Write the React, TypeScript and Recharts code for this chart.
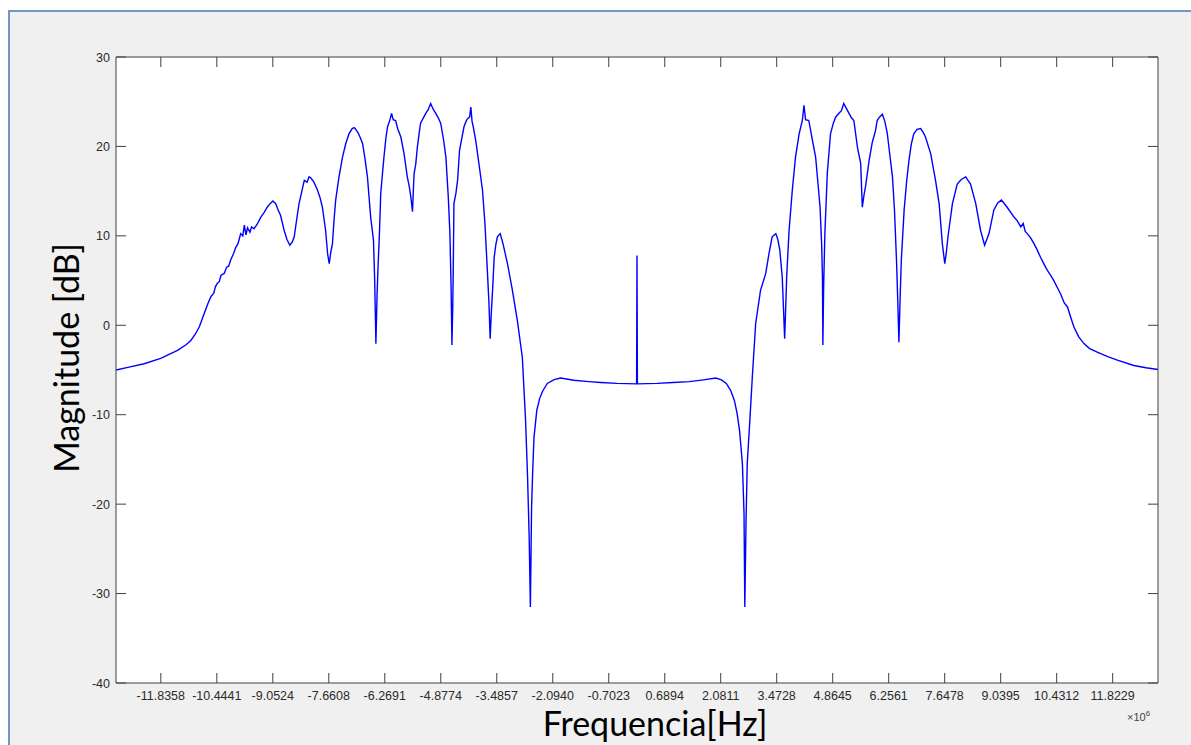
import { CartesianGrid, Line, LineChart, XAxis, YAxis } from 'recharts'

// frequency in MHz (axis shows x10^6 Hz), magnitude in dB
const lowerSideband: Array<[number, number]> = [
  [-12.95, -5.0], [-12.6, -4.65], [-12.25, -4.3], [-11.84, -3.7], [-11.42, -2.8], [-11.2, -2.15],
  [-11.09, -1.7], [-10.98, -1.0], [-10.88, -0.2], [-10.76, 1.3], [-10.66, 2.5], [-10.59, 3.2],
  [-10.52, 3.6], [-10.48, 4.3], [-10.43, 4.7], [-10.38, 4.9], [-10.34, 5.6], [-10.26, 5.8],
  [-10.2, 6.5], [-10.15, 6.6], [-10.1, 7.3], [-10.03, 8.0], [-9.97, 8.75], [-9.92, 9.1],
  [-9.85, 10.25], [-9.8, 10.0], [-9.76, 11.2], [-9.72, 10.1], [-9.68, 10.9], [-9.62, 10.4],
  [-9.58, 11.0], [-9.52, 10.8], [-9.44, 11.3], [-9.35, 12.1], [-9.27, 12.6], [-9.19, 13.2],
  [-9.12, 13.6], [-9.05, 13.9], [-8.98, 13.6], [-8.92, 12.9], [-8.86, 12.3], [-8.77, 10.6],
  [-8.7, 9.6], [-8.63, 8.95], [-8.57, 9.3], [-8.52, 9.9], [-8.46, 11.8], [-8.4, 13.6],
  [-8.33, 15.0], [-8.27, 16.2], [-8.2, 16.0], [-8.15, 16.6], [-8.11, 16.5], [-8.03, 16.0],
  [-7.94, 15.1], [-7.88, 14.3], [-7.82, 13.2], [-7.74, 10.6], [-7.69, 8.0], [-7.65, 6.9],
  [-7.61, 8.2], [-7.57, 9.1], [-7.53, 11.8], [-7.49, 14.0], [-7.41, 16.5], [-7.32, 18.8],
  [-7.24, 20.3], [-7.16, 21.4], [-7.08, 22.0], [-7.03, 22.1], [-6.99, 21.9], [-6.93, 21.5],
  [-6.88, 21.0], [-6.82, 20.3], [-6.76, 18.6], [-6.7, 16.6], [-6.62, 12.1], [-6.55, 9.5],
  [-6.52, 5.0], [-6.49, -2.05], [-6.46, 3.5], [-6.44, 6.15], [-6.4, 10.5], [-6.37, 14.7],
  [-6.33, 16.8], [-6.29, 18.8], [-6.24, 21.0], [-6.2, 22.2], [-6.14, 23.0], [-6.1, 23.7],
  [-6.06, 23.0], [-6.0, 22.9], [-5.95, 22.0], [-5.87, 21.05], [-5.79, 19.2], [-5.71, 16.6],
  [-5.66, 15.5], [-5.62, 14.3], [-5.58, 12.7], [-5.56, 15.0], [-5.54, 17.0], [-5.5, 18.0],
  [-5.46, 19.9], [-5.42, 21.3], [-5.38, 22.6], [-5.31, 23.2], [-5.25, 23.7], [-5.19, 24.1],
  [-5.13, 24.8], [-5.06, 24.1], [-5.0, 23.7], [-4.94, 23.2], [-4.88, 22.6], [-4.81, 20.8],
  [-4.75, 18.8], [-4.69, 14.3], [-4.65, 10.25], [-4.62, 4.0], [-4.6, -2.2], [-4.58, 2.0],
  [-4.57, 5.4], [-4.55, 13.6], [-4.5, 14.8], [-4.46, 16.2], [-4.41, 19.6], [-4.35, 21.0],
  [-4.3, 22.2], [-4.25, 22.8], [-4.21, 23.1], [-4.16, 23.3], [-4.13, 24.4], [-4.1, 22.8],
  [-4.07, 22.2], [-4.01, 20.7], [-3.93, 18.1], [-3.84, 15.1], [-3.78, 11.4], [-3.72, 6.15],
  [-3.68, 2.5], [-3.65, -1.5], [-3.62, 1.5], [-3.59, 3.9], [-3.55, 7.6], [-3.51, 9.0],
  [-3.47, 9.9], [-3.4, 10.25], [-3.33, 9.1], [-3.22, 6.9], [-3.1, 4.0], [-2.97, 0.4],
  [-2.85, -3.6], [-2.77, -10.6], [-2.72, -17.0], [-2.68, -23.7], [-2.65, -31.5], [-2.62, -20.3],
  [-2.59, -16.0], [-2.56, -12.5], [-2.49, -9.5], [-2.42, -8.2], [-2.35, -7.4], [-2.23, -6.5],
  [-2.06, -6.07], [-1.9, -5.9], [-1.57, -6.15], [-1.2, -6.3], [-0.9, -6.4], [-0.5, -6.5],
]

const carrier: Array<[number, number]> = [
  [-0.01, -6.55], [0, 7.8], [0.01, -6.55],
]

const upperSideband: Array<[number, number]> = [
  [0.5, -6.5], [0.9, -6.4], [1.3, -6.3], [1.65, -6.1], [1.96, -5.9], [2.1, -6.1],
  [2.22, -6.5], [2.33, -7.3], [2.42, -8.4], [2.49, -9.9], [2.55, -11.8], [2.62, -15.5],
  [2.66, -21.0], [2.68, -31.5], [2.71, -22.0], [2.74, -15.5], [2.8, -11.0], [2.87, -5.5],
  [2.95, 0.2], [3.07, 3.9], [3.2, 5.8], [3.28, 8.0], [3.36, 9.9], [3.45, 10.25],
  [3.5, 9.6], [3.55, 8.4], [3.61, 5.4], [3.64, 2.0], [3.67, -1.5], [3.7, 2.5],
  [3.72, 5.4], [3.78, 10.6], [3.86, 15.1], [3.94, 18.8], [4.03, 21.4], [4.11, 22.9],
  [4.15, 24.6], [4.19, 23.0], [4.27, 22.9], [4.36, 20.7], [4.44, 18.8], [4.5, 15.8],
  [4.55, 13.2], [4.59, 9.0], [4.61, 5.4], [4.62, -2.2], [4.64, 4.5], [4.67, 10.25],
  [4.73, 17.0], [4.81, 21.4], [4.88, 22.6], [4.94, 23.3], [5.02, 23.7], [5.08, 24.0],
  [5.14, 24.8], [5.21, 24.2], [5.27, 23.7], [5.33, 23.2], [5.39, 22.9], [5.48, 19.9],
  [5.56, 18.1], [5.6, 13.2], [5.64, 14.5], [5.68, 15.5], [5.77, 18.45], [5.85, 20.5],
  [5.93, 21.8], [5.97, 22.9], [6.03, 23.3], [6.1, 23.6], [6.16, 22.8], [6.22, 21.5],
  [6.3, 18.45], [6.35, 16.6], [6.4, 12.9], [6.45, 7.3], [6.48, 3.0], [6.51, -1.9],
  [6.54, 3.0], [6.57, 7.3], [6.64, 12.9], [6.7, 16.0], [6.76, 18.45], [6.82, 20.3],
  [6.88, 21.4], [6.96, 21.9], [7.05, 22.0], [7.11, 21.6], [7.17, 21.05], [7.3, 19.2],
  [7.42, 16.2], [7.51, 13.6], [7.59, 9.1], [7.65, 6.9], [7.69, 8.2], [7.73, 9.9],
  [7.84, 13.6], [7.96, 15.8], [8.06, 16.3], [8.17, 16.6], [8.29, 15.8], [8.42, 13.6],
  [8.54, 10.6], [8.64, 8.95], [8.75, 10.25], [8.87, 12.9], [8.97, 13.7], [9.06, 14.0],
  [9.2, 13.2], [9.37, 12.1], [9.45, 11.7], [9.54, 11.0], [9.6, 11.4], [9.65, 10.5],
  [9.7, 10.25], [9.78, 9.8], [9.87, 9.1], [9.95, 8.4], [10.03, 7.6], [10.11, 6.9],
  [10.2, 6.15], [10.28, 5.6], [10.36, 5.0], [10.45, 4.2], [10.53, 3.5], [10.62, 2.5],
  [10.7, 2.05], [10.78, 0.9], [10.86, -0.2], [10.98, -1.3], [11.11, -2.05], [11.25, -2.6],
  [11.44, -3.0], [11.7, -3.5], [11.94, -3.9], [12.35, -4.5], [12.65, -4.75], [12.95, -4.95],
]

const xTicks = [
  -11.8358, -10.4441, -9.0524, -7.6608, -6.2691, -4.8774, -3.4857, -2.094, -0.7023,
  0.6894, 2.0811, 3.4728, 4.8645, 6.2561, 7.6478, 9.0395, 10.4312, 11.8229,
]
const yTicks = [-40, -30, -20, -10, 0, 10, 20, 30]

const data = [...lowerSideband, ...carrier, ...upperSideband].map(([f, db]) => ({ f, db }))

const W = 1191
const H = 745
const TOP = 57
const BOTTOM = 683
const LEFT = 116
const RIGHT = 1158
const TICK = 10
const axisColor = '#404040'
const tickFont = '"Liberation Sans", Arial, sans-serif'

const BottomTick = (props: any) => {
  const { x, payload } = props
  return (
    <g>
      <line x1={x} x2={x} y1={BOTTOM} y2={BOTTOM - TICK} stroke={axisColor} />
      <text x={x} y={BOTTOM + 17} textAnchor="middle" fontSize={12.5} fontFamily={tickFont} fill="#2b2b2b">
        {payload.value.toFixed(4)}
      </text>
    </g>
  )
}

const TopTick = (props: any) => {
  const { x } = props
  return <line x1={x} x2={x} y1={TOP} y2={TOP + TICK} stroke={axisColor} />
}

const LeftTick = (props: any) => {
  const { y, payload } = props
  return (
    <g>
      <line x1={LEFT} x2={LEFT + TICK} y1={y} y2={y} stroke={axisColor} />
      <text x={LEFT - 6} y={y + 4.5} textAnchor="end" fontSize={12.5} fontFamily={tickFont} fill="#2b2b2b">
        {payload.value}
      </text>
    </g>
  )
}

const RightTick = (props: any) => {
  const { y } = props
  return <line x1={RIGHT} x2={RIGHT - TICK} y1={y} y2={y} stroke={axisColor} />
}

export default function App() {
  return (
    <div style={{ position: 'absolute', left: 0, top: 0, width: W, height: H, overflow: 'hidden', background: '#fff' }}>
      <div
        style={{
          position: 'absolute',
          left: 8,
          top: 10,
          width: W + 20,
          height: H + 20,
          background: '#f0f0f0',
          border: '2px solid #7496c4',
        }}
      />
      <div style={{ position: 'absolute', left: 0, top: 0 }}>
        <LineChart
          width={W}
          height={H}
          data={data}
          margin={{ top: TOP - 1, right: W - RIGHT - 1, bottom: H - BOTTOM - 30, left: 0 }}
        >
          <CartesianGrid horizontal={false} vertical={false} fill="#fff" xAxisId="b" yAxisId="l" />
          <XAxis
            xAxisId="b"
            dataKey="f"
            type="number"
            domain={[-12.95, 12.95]}
            ticks={xTicks}
            allowDataOverflow
            height={30}
            tickSize={0}
            tickMargin={0}
            tickLine={false}
            stroke={axisColor}
            tick={<BottomTick />}
            interval={0}
          />
          <XAxis
            xAxisId="t"
            orientation="top"
            dataKey="f"
            type="number"
            domain={[-12.95, 12.95]}
            ticks={xTicks}
            allowDataOverflow
            height={1}
            tickSize={0}
            tickLine={false}
            stroke={axisColor}
            tick={<TopTick />}
            interval={0}
          />
          <YAxis
            yAxisId="l"
            type="number"
            domain={[-40, 30]}
            ticks={yTicks}
            allowDataOverflow
            width={LEFT}
            tickSize={0}
            tickLine={false}
            stroke={axisColor}
            tick={<LeftTick />}
            interval={0}
          />
          <YAxis
            yAxisId="r"
            orientation="right"
            type="number"
            domain={[-40, 30]}
            ticks={yTicks}
            allowDataOverflow
            width={1}
            tickSize={0}
            tickLine={false}
            stroke={axisColor}
            tick={<RightTick />}
            interval={0}
          />
          <Line
            xAxisId="b"
            yAxisId="l"
            type="linear"
            dataKey="db"
            stroke="#0000ff"
            strokeWidth={1.4}
            dot={false}
            isAnimationActive={false}
          />
        </LineChart>
      </div>
      <div
        style={{
          position: 'absolute',
          left: 65,
          top: 358,
          transform: 'translate(-50%, -50%) rotate(-90deg)',
          fontFamily: 'Lato, "Open Sans", sans-serif',
          fontSize: 34,
          whiteSpace: 'nowrap',
          color: '#000',
        }}
      >
        Magnitude [dB]
      </div>
      <div
        style={{
          position: 'absolute',
          left: 655,
          top: 722,
          transform: 'translate(-50%, -50%)',
          fontFamily: 'Lato, "Open Sans", sans-serif',
          fontSize: 34,
          whiteSpace: 'nowrap',
          color: '#000',
        }}
      >
        Frequencia[Hz]
      </div>
      <div
        style={{
          position: 'absolute',
          left: 1127,
          top: 709,
          fontFamily: tickFont,
          fontSize: 11,
          color: '#444',
          whiteSpace: 'nowrap',
        }}
      >
        ×10<sup style={{ fontSize: 8 }}>6</sup>
      </div>
    </div>
  )
}
